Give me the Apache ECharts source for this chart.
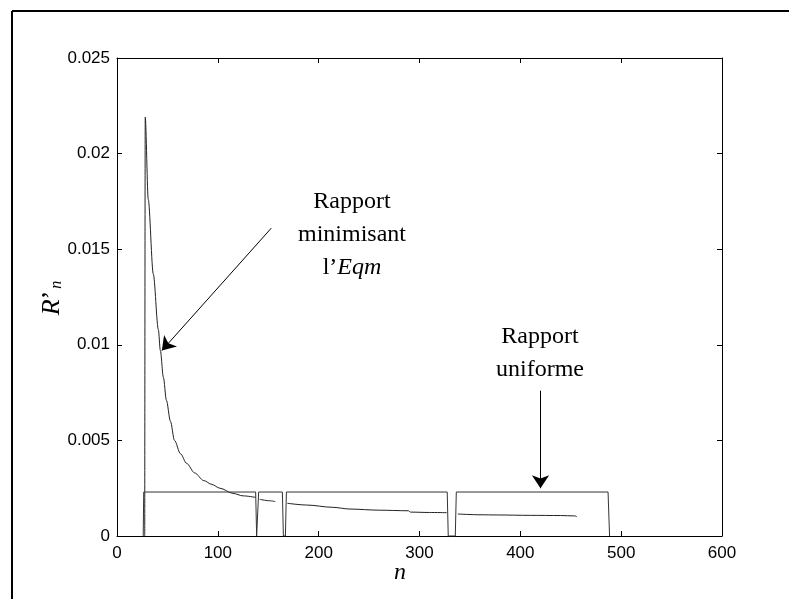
<!DOCTYPE html>
<html>
<head>
<meta charset="utf-8">
<script src="https://cdn.jsdelivr.net/npm/echarts@6/dist/echarts.min.js"></script>
<style>
  html, body { margin: 0; padding: 0; background: #fff; }
  #chart { width: 789px; height: 599px; }
</style>
</head>
<body>
<div id="chart"></div>
<script>
// courbe du rapport minimisant l'Eqm (null = coupure entre bandes)
var nCurve = [27.5, 28, 31, 36, 41, 43, 46, 49, 53, 57, 63, 69, 77, 86, 94, 102, 115, 125, 137.5, 139,
              141.5, 150, 157, 160,
              169, 188, 214, 231, 260, 289, 291, 310, 327, 330,
              338, 360, 377, 410, 440, 454, 456];
var rCurve = [0, 0.0219, 0.0176, 0.0137, 0.0108, 0.0097, 0.0083, 0.0071, 0.0060, 0.0050, 0.0043, 0.0038, 0.0033, 0.0029, 0.0027, 0.0025, 0.00223, 0.0021, 0.00202, null,
              0.00192, 0.00185, 0.0018, null,
              0.00171, 0.00162, 0.0015, 0.00141, 0.00135, 0.00132, 0.00125, 0.00123, 0.00122, null,
              0.00115, 0.00111, 0.0011, 0.00108, 0.00107, 0.00105, 0.00101];

// rapport uniforme par bandes
var nBand = [26, 26.5, 137.5, 138.5, 139.5, 140.5, 164, 165, 167, 168, 327.5, 328.5, 335.5, 336.5, 487, 488.5];
var rBand = [0, 0.0023, 0.0023, 0, 0, 0.0023, 0.0023, 0, 0, 0.0023, 0.0023, 0, 0, 0.0023, 0.0023, 0];

var xTicks = [0, 100, 200, 300, 400, 500, 600];
var yTicks = [0, 0.005, 0.01, 0.015, 0.02, 0.025];

// flèches : [départ, pointe]
var arrowEqm = [[153, 0.0161], [44.5, 0.0097]];
var arrowUni = [[420, 0.0076], [420, 0.0025]];

function pairs(xs, ys) {
  return xs.map(function (x, i) { return ys[i] === null ? [x, null] : [x, ys[i]]; });
}

var chart = echarts.init(document.getElementById('chart'));

var axisLine = { show: true, onZero: false, lineStyle: { color: '#000', width: 1 } };
var tickIn = { show: true, inside: true, length: 5, lineStyle: { color: '#000' } };
var tickFont = { color: '#000', fontFamily: 'Liberation Sans', fontSize: 17 };

var option = {
  backgroundColor: '#fff',
  animation: false,
  grid: { left: 117, right: 67, top: 58, bottom: 63 },
  xAxis: [
    { type: 'value', min: 0, max: 600, interval: 100, position: 'bottom',
      axisLine: axisLine, axisTick: tickIn, splitLine: { show: false },
      axisLabel: Object.assign({ margin: 9 }, tickFont) },
    { type: 'value', min: 0, max: 600, interval: 100, position: 'top',
      axisLine: axisLine, axisTick: tickIn, splitLine: { show: false },
      axisLabel: { show: false } }
  ],
  yAxis: [
    { type: 'value', min: 0, max: 0.025, interval: 0.005, position: 'left',
      axisLine: axisLine, axisTick: tickIn, splitLine: { show: false },
      axisLabel: Object.assign({ margin: 7, formatter: function (v) { return String(+v.toFixed(3)); } }, tickFont) },
    { type: 'value', min: 0, max: 0.025, interval: 0.005, position: 'right',
      axisLine: axisLine, axisTick: tickIn, splitLine: { show: false },
      axisLabel: { show: false } }
  ],
  series: [
    {
      type: 'line', name: 'Eqm', data: pairs(nCurve, rCurve),
      showSymbol: false, connectNulls: false,
      smooth: 0.3, smoothMonotone: 'x',
      lineStyle: { color: '#222', width: 1 },
      markLine: {
        silent: true, symbol: ['none', 'arrow'], symbolSize: 13,
        label: { show: false },
        lineStyle: { color: '#000', width: 1, type: 'solid' },
        data: [
          [{ coord: arrowEqm[0] }, { coord: arrowEqm[1] }],
          [{ coord: arrowUni[0] }, { coord: arrowUni[1] }]
        ]
      }
    },
    {
      type: 'line', name: 'Uniforme', data: pairs(nBand, rBand),
      showSymbol: false,
      lineStyle: { color: '#333', width: 1 }
    }
  ],
  graphic: [
    { type: 'line', shape: { x1: 12, y1: 11, x2: 789, y2: 11 }, style: { stroke: '#000', lineWidth: 2 } },
    { type: 'line', shape: { x1: 12, y1: 11, x2: 12, y2: 599 }, style: { stroke: '#000', lineWidth: 2 } },
    { type: 'text', x: 352, y: 218, style: {
        text: 'Rapport\nminimisant', fill: '#000', font: '24px "Liberation Serif"',
        align: 'center', verticalAlign: 'middle', lineHeight: 33 } },
    { type: 'text', x: 352, y: 268, style: {
        text: '{n|l’}{i|Eqm}', align: 'center', verticalAlign: 'middle',
        rich: {
          n: { fontFamily: 'Liberation Serif', fontSize: 24, fill: '#000' },
          i: { fontFamily: 'Liberation Serif', fontSize: 24, fontStyle: 'italic', fill: '#000' }
        } } },
    { type: 'text', x: 540, y: 353, style: {
        text: 'Rapport\nuniforme', fill: '#000', font: '24px "Liberation Serif"',
        align: 'center', verticalAlign: 'middle', lineHeight: 33 } },
    { type: 'text', x: 400, y: 573, style: {
        text: 'n', fill: '#000', font: 'italic 24px "Liberation Serif"',
        align: 'center', verticalAlign: 'middle' } },
    { type: 'text', x: 52, y: 298, rotation: Math.PI / 2, style: {
        text: '{i|R}{p|’}{s|n}', align: 'center', verticalAlign: 'middle',
        rich: {
          i: { fontFamily: 'Liberation Serif', fontSize: 26, fontStyle: 'italic', fill: '#000' },
          p: { fontFamily: 'Liberation Serif', fontSize: 26, fill: '#000' },
          s: { fontFamily: 'Liberation Serif', fontSize: 16, fontStyle: 'italic', fill: '#000', verticalAlign: 'bottom', padding: [10, 0, 0, 2] }
        } } }
  ]
};

chart.setOption(option);
</script>
</body>
</html>
